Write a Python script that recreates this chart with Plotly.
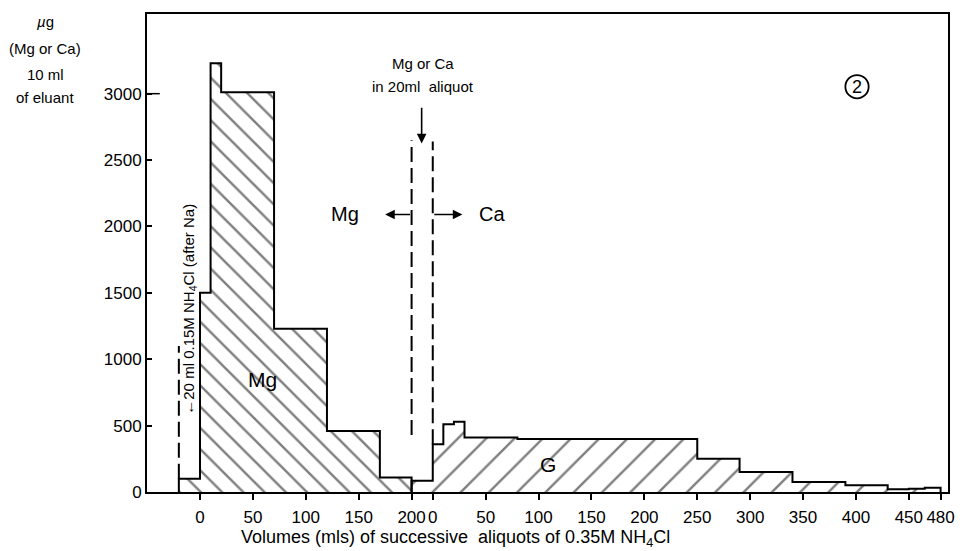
import plotly.graph_objects as go

# ---------------- data ----------------
# Left section: volume (ml) of eluate, Mg fractions (µg per 10 ml)
mg_edges = [-20, 0, 10, 20, 70, 120, 170, 200]
mg_values = [100, 1500, 3230, 3010, 1230, 460, 110]

# 20 ml aliquot between the two sections (Mg or Ca)
aliquot_edges = [200, 220]
aliquot_values = [85]

# Right section: volume (ml) after the aliquot, Ca fractions
ca_edges = [0, 10, 20, 30, 80, 250, 290, 340, 390, 430, 450, 465, 480]
ca_values = [360, 510, 530, 410, 400, 250, 150, 75, 50, 20, 25, 32]

left_ticks = [0, 50, 100, 150, 200]
right_ticks = [0, 50, 100, 150, 200, 250, 300, 350, 400, 450, 480]
y_ticks = [0, 500, 1000, 1500, 2000, 2500, 3000]

# offset of the second (Ca) volume scale on the common x axis
SECTION_OFFSET = aliquot_edges[1]

FONT = "Liberation Sans"


def step_xy(edges, values):
    xs = [edges[0]] + list(edges[:-1]) + [edges[-1]]
    ys = [0] + list(values) + [0]
    return xs, ys


fig = go.Figure()

# Mg region (hatched "\")
mx, my = step_xy(mg_edges, mg_values)
fig.add_trace(go.Scatter(
    x=mx, y=my, mode="lines", line_shape="hv",
    line=dict(color="black", width=2),
    fill="tozeroy", fillcolor="rgba(0,0,0,0)",
    fillpattern=dict(shape="\\", size=15, solidity=0.16, fgcolor="black", bgcolor="rgba(0,0,0,0)"),
    hoverinfo="skip", showlegend=False,
))

# Aliquot + Ca region (hatched "/")
g_edges = [aliquot_edges[0]] + [SECTION_OFFSET + e for e in ca_edges]
g_values = list(aliquot_values) + list(ca_values)
gx, gy = step_xy(g_edges, g_values)
fig.add_trace(go.Scatter(
    x=gx, y=gy, mode="lines", line_shape="hv",
    line=dict(color="black", width=2),
    fill="tozeroy", fillcolor="rgba(0,0,0,0)",
    fillpattern=dict(shape="/", size=20, solidity=0.12, fgcolor="black", bgcolor="rgba(0,0,0,0)"),
    hoverinfo="skip", showlegend=False,
))

tickvals = list(left_ticks) + [t + SECTION_OFFSET for t in right_ticks]
ticktext = [str(t) for t in left_ticks] + [str(t) for t in right_ticks]

fig.update_xaxes(
    range=[-50.1, 707], tickvals=tickvals, ticktext=ticktext,
    ticks="outside", ticklen=6, tickwidth=1.5, tickcolor="black",
    ticklabelstandoff=3,
    showline=True, linecolor="black", linewidth=2, mirror=True,
    showgrid=False, zeroline=False,
    tickfont=dict(family=FONT, size=17, color="black"),
)
fig.update_yaxes(
    range=[0, 3600], tickvals=y_ticks,
    ticks="inside", ticklen=5, tickwidth=1.5, tickcolor="black",
    showline=True, linecolor="black", linewidth=2, mirror=True,
    showgrid=False, zeroline=False,
    tickfont=dict(family=FONT, size=17, color="black"),
)

dash_line = dict(color="black", width=2, dash="15px,6px")
shapes = [
    dict(type="line", xref="x", yref="y", x0=-20, x1=-20, y0=100, y1=1100, line=dash_line),
    dict(type="line", xref="x", yref="y", x0=200, x1=200, y0=430, y1=2650, line=dash_line),
    dict(type="line", xref="x", yref="y", x0=220, x1=220, y0=360, y1=2640, line=dash_line),
    dict(type="line", xref="x", yref="y", x0=-50.1, x1=-38, y0=3000, y1=3000,
         line=dict(color="black", width=1.5)),
    dict(type="circle", xref="x", yref="y", x0=610, x1=632, y0=2965, y1=3140,
         line=dict(color="black", width=1.8)),
]

ann = []
def txt(x, y, s, size=17, xref="x", yref="y", angle=0):
    ann.append(dict(x=x, y=y, xref=xref, yref=yref, text=s, showarrow=False,
                    xanchor="center", yanchor="middle",
                    textangle=angle, font=dict(family=FONT, size=size, color="black")))

txt(210.5, 3225, "Mg or Ca", 15)
txt(210.5, 3052, "in 20ml  aliquot", 15)
txt(137, 2090, "Mg", 20)
txt(276, 2090, "Ca", 20)
txt(58.6, 847, "Mg", 21)
txt(329, 210, "G", 21)
txt(621, 3052, "2", 18)
txt(-9.5, 1380, "←20 ml 0.15M NH<sub>4</sub>Cl (after Na)", 15, angle=-90)

# y-axis label (top-left)
txt(-0.127, 0.985, "<i>µ</i>g", 15, "paper", "paper")
txt(-0.127, 0.927, "(Mg or Ca)", 15, "paper", "paper")
txt(-0.127, 0.873, "10 ml", 15, "paper", "paper")
txt(-0.127, 0.825, "of eluant", 15, "paper", "paper")
# x-axis title
txt(0.385, -0.098, "Volumes (mls) of successive  aliquots of 0.35M NH<sub>4</sub>Cl", 18, "paper", "paper")

# arrows
def arrow(x, y, ax, ay):
    ann.append(dict(x=x, y=y, ax=ax, ay=ay, xref="x", yref="y", axref="x", ayref="y",
                    text="", showarrow=True, arrowhead=2, arrowsize=1.2, arrowwidth=1.6,
                    arrowcolor="black"))

arrow(175, 2090, 200, 2090)
arrow(248, 2090, 220, 2090)
arrow(209.5, 2625, 209.5, 2905)

# page body has an 8px margin: shrink figure and margins to keep the plot area in place
fig.update_layout(
    width=955, height=543,
    margin=dict(l=139, r=15, t=4, b=59),
    paper_bgcolor="white", plot_bgcolor="white",
    shapes=shapes, annotations=ann,
    font=dict(family=FONT, color="black"),
)

fig.write_html("out.html")
